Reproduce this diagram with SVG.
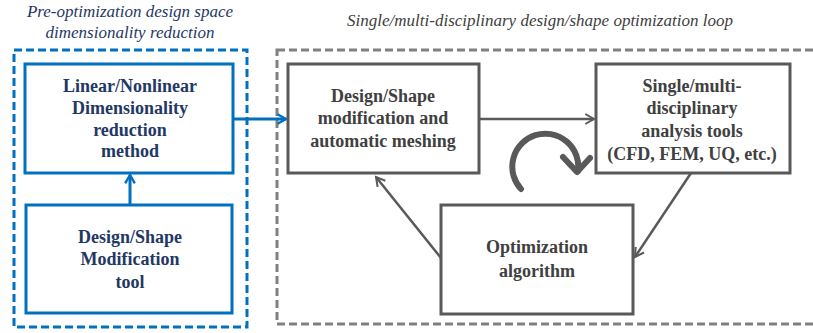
<svg xmlns="http://www.w3.org/2000/svg" width="813" height="333" viewBox="0 0 813 333">
  <defs>
    <style>
      .lbl { font-family: 'Liberation Serif', 'DejaVu Serif', serif; font-weight: bold; font-size: 18px; text-anchor: middle; }
      .blue-t { fill: #1F3864; }
      .gray-t { fill: #404040; }
      .title { font-family: 'Liberation Serif', 'DejaVu Serif', serif; font-style: italic; font-size: 17px; text-anchor: middle; }
      .bbox { fill: #ffffff; stroke: #0070C0; stroke-width: 3; }
      .gbox { fill: #ffffff; stroke: #595959; stroke-width: 3; }
      .bconn { fill: none; stroke: #0070C0; stroke-width: 3; }
      .gconn { fill: none; stroke: #595959; stroke-width: 2.5; }
    </style>
    <marker id="arrBlue" viewBox="0 0 10 10" refX="8" refY="5" markerWidth="4" markerHeight="4" orient="auto" markerUnits="strokeWidth">
      <path d="M1,1 L8,5 L1,9" fill="none" stroke="#0070C0" stroke-width="2"/>
    </marker>
    <marker id="arrGray" viewBox="0 0 10 10" refX="8" refY="5" markerWidth="5" markerHeight="5" orient="auto" markerUnits="strokeWidth">
      <path d="M1,1 L8,5 L1,9" fill="none" stroke="#595959" stroke-width="1.6"/>
    </marker>
  </defs>

  <rect width="813" height="333" fill="#ffffff"/>

  <!-- group frames and their captions -->
  <g id="pre-optimization">
    <rect x="14" y="50" width="233" height="277" fill="none" stroke="#0070C0" stroke-width="3" stroke-dasharray="8,4"/>
    <text class="title blue-t" x="130" y="17">Pre-optimization design space</text>
    <text class="title blue-t" x="130" y="38">dimensionality reduction</text>
  </g>
  <g id="optimization-loop">
    <rect x="277" y="50" width="545" height="274" fill="none" stroke="#808080" stroke-width="3" stroke-dasharray="8,4"/>
    <text class="title gray-t" x="540" y="26">Single/multi-disciplinary design/shape optimization loop</text>
  </g>

  <!-- connectors -->
  <g id="connectors">
    <line class="bconn" x1="130" y1="205" x2="130" y2="175" marker-end="url(#arrBlue)"/>
    <line class="bconn" x1="233" y1="119" x2="286" y2="119" marker-end="url(#arrBlue)"/>
    <line class="gconn" x1="479" y1="119" x2="594" y2="119" marker-end="url(#arrGray)"/>
    <line class="gconn" x1="691" y1="173" x2="635" y2="257" marker-end="url(#arrGray)"/>
    <line class="gconn" x1="441" y1="258" x2="376" y2="177" marker-end="url(#arrGray)"/>
  </g>

  <!-- loop symbol -->
  <g id="loop-symbol" fill="none" stroke="#595959" stroke-width="6" stroke-linecap="round" stroke-linejoin="round">
    <path d="M521,189 A33,33 0 1 1 578,171"/>
    <path d="M563,157 L577,172 L590,158"/>
  </g>

  <!-- nodes -->
  <g id="dim-reduction">
    <rect class="bbox" x="25" y="64" width="208" height="109"/>
    <text class="lbl blue-t" x="130" y="92">Linear/Nonlinear</text>
    <text class="lbl blue-t" x="130" y="114">Dimensionality</text>
    <text class="lbl blue-t" x="130" y="136">reduction</text>
    <text class="lbl blue-t" x="130" y="157">method</text>
  </g>
  <g id="shape-modification-tool">
    <rect class="bbox" x="26" y="205" width="206" height="108"/>
    <text class="lbl blue-t" x="130" y="243">Design/Shape</text>
    <text class="lbl blue-t" x="130" y="265">Modification</text>
    <text class="lbl blue-t" x="130" y="288">tool</text>
  </g>
  <g id="shape-meshing">
    <rect class="gbox" x="288" y="64" width="191" height="109"/>
    <text class="lbl gray-t" x="383" y="102">Design/Shape</text>
    <text class="lbl gray-t" x="383" y="124">modification and</text>
    <text class="lbl gray-t" x="383" y="147">automatic meshing</text>
  </g>
  <g id="analysis-tools">
    <rect class="gbox" x="596" y="64" width="194" height="109"/>
    <text class="lbl gray-t" x="692" y="92">Single/multi-</text>
    <text class="lbl gray-t" x="692" y="114">disciplinary</text>
    <text class="lbl gray-t" x="692" y="137">analysis tools</text>
    <text class="lbl gray-t" x="692" y="160">(CFD, FEM, UQ, etc.)</text>
  </g>
  <g id="optimizer">
    <rect class="gbox" x="441" y="205" width="192" height="109"/>
    <text class="lbl gray-t" x="537" y="253">Optimization</text>
    <text class="lbl gray-t" x="537" y="277">algorithm</text>
  </g>
</svg>
